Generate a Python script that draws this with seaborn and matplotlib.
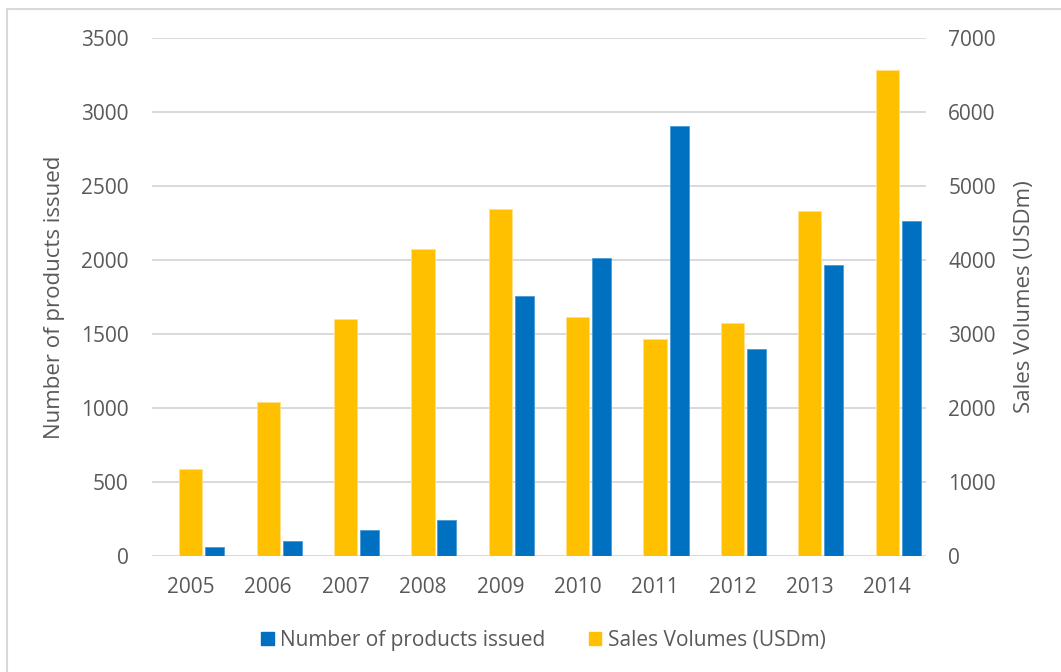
import numpy as np
import pandas as pd
import matplotlib
matplotlib.use('Agg')
import matplotlib.pyplot as plt
import seaborn as sns
from matplotlib.patches import Rectangle

# values
years = [2005, 2006, 2007, 2008, 2009, 2010, 2011, 2012, 2013, 2014]
products_issued = [59, 99, 174, 241, 1754, 2011, 2905, 1399, 1966, 2261]
sales_volumes = [1176, 2077, 3208, 4144, 4685, 3234, 2936, 3153, 4662, 6563]
left_ticks = [0, 500, 1000, 1500, 2000, 2500, 3000, 3500]
right_ticks = [0, 1000, 2000, 3000, 4000, 5000, 6000, 7000]

blue = '#0070C0'
yellow = '#FFC000'
grey_text = '#595959'
grid_col = '#D9D9D9'

sns.set_style('white')
plt.rcParams['font.family'] = ['Open Sans', 'DejaVu Sans']

df = pd.DataFrame({'year': years, 'products': products_issued, 'sales': sales_volumes})
df['x_sales'] = df['year'] - 0.0
df['x_prod'] = df['year'] + 0.31

fig = plt.figure(figsize=(10.61, 6.72), dpi=100)
ax = fig.add_axes([0.1433, 0.1726, 0.7294, 0.7709])
ax2 = ax.twinx()

sns.barplot(data=df, x='x_prod', y='products', native_scale=True, width=0.245,
            color=blue, saturation=1, edgecolor='#4A9BD6', linewidth=0.6, ax=ax)
sns.barplot(data=df, x='x_sales', y='sales', native_scale=True, width=0.30,
            color=yellow, saturation=1, edgecolor='#FFE08A', linewidth=0.6, ax=ax2)

for a in (ax, ax2):
    a.set_xlim(years[0] - 0.5, years[-1] + 0.5)
    for s in a.spines.values():
        s.set_visible(False)
    a.tick_params(length=0, labelsize=15, colors=grey_text)

ax.set_ylim(0, 3500)
ax2.set_ylim(0, 7000)
ax.set_yticks(left_ticks)
ax2.set_yticks(right_ticks)
ax.tick_params(axis='y', pad=17)
ax2.tick_params(axis='y', pad=16)
ax.set_xticks(years)
ax.set_xticklabels([str(y) for y in years])
ax.tick_params(axis='x', pad=15)
ax.grid(axis='y', color=grid_col, linewidth=1.4)
ax.set_axisbelow(True)
ax2.grid(False)

ax.set_xlabel('')
ax2.set_xlabel('')
ax.set_ylabel('Number of products issued', fontsize=16, color=grey_text, labelpad=11)
ax2.set_ylabel('Sales Volumes (USDm)', fontsize=16, color=grey_text, labelpad=13)

# legend below the plot
handles = [Rectangle((0, 0), 1, 1, color=blue), Rectangle((0, 0), 1, 1, color=yellow)]
fig.legend(handles, ['Number of products issued', 'Sales Volumes (USDm)'],
           loc='center', bbox_to_anchor=(0.512, 0.047), ncol=2, frameon=False,
           fontsize=15, labelcolor=grey_text, handlelength=0.6, handleheight=0.6,
           handletextpad=0.3, columnspacing=2.1)

# light frame around the chart area
fig.patches.append(Rectangle((7 / 1061, -0.05), 1.2, 1 - 9 / 672 + 0.05,
                             transform=fig.transFigure, fill=False,
                             edgecolor=grid_col, linewidth=1.5))

fig.savefig('out.png', dpi=100)
